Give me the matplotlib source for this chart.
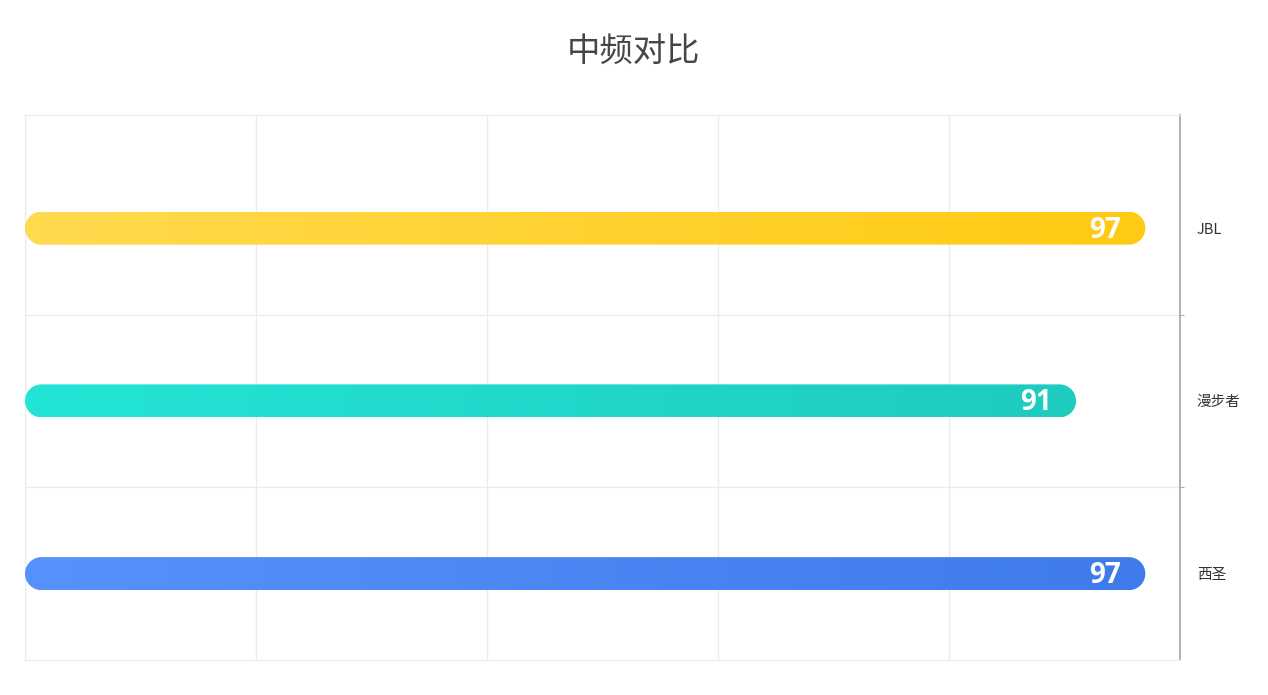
import numpy as np
import matplotlib
matplotlib.use("Agg")
import matplotlib.pyplot as plt
from matplotlib.colors import LinearSegmentedColormap
from matplotlib.patches import Polygon

plt.rcParams['font.family'] = ['Noto Sans CJK SC', 'DejaVu Sans']

# data (top to bottom as shown)
brands = ['JBL', '漫步者', '西圣']
scores = [97, 91, 97]
colors_left = ['#FFDA4F', '#23E5D6', '#5592FB']
colors_right = ['#FFCA12', '#1DCBBF', '#3F7BEB']

W, H = 1268, 695
fig = plt.figure(figsize=(W / 100, H / 100), dpi=100)
ax = fig.add_axes([25 / W, 35 / H, 1155 / W, 545 / H])

n = len(brands)
ypos = np.arange(n)[::-1]  # JBL on top
ax.set_xlim(0, 100)
ax.set_ylim(-0.5, n - 1 + 0.655)

# pixel scales for the round caps
px_per_x = 1155 / 100
px_per_y = 545 / (n - 1 + 0.655 + 0.5)
bar_px = 33
ry = (bar_px / 2) / px_per_y
rx = (bar_px / 2) / px_per_x


def pill(x1, yc):
    t = np.linspace(np.pi / 2, 3 * np.pi / 2, 40)
    left = np.column_stack([rx + rx * np.cos(t), yc + ry * np.sin(t)])
    t2 = np.linspace(-np.pi / 2, np.pi / 2, 40)
    right = np.column_stack([x1 - rx + rx * np.cos(t2), yc + ry * np.sin(t2)])
    return np.vstack([left, right])


for y, v, cl, cr in zip(ypos, scores, colors_left, colors_right):
    patch = Polygon(pill(v, y), closed=True, facecolor='none', edgecolor='none')
    ax.add_patch(patch)
    cmap = LinearSegmentedColormap.from_list('g', [cl, cr])
    grad = np.linspace(0, 1, 256).reshape(1, -1)
    im = ax.imshow(grad, cmap=cmap, aspect='auto',
                   extent=[0, v, y - ry, y + ry], zorder=3)
    im.set_clip_path(patch)
    ax.text(v - 2.1, y - 0.012, str(v), ha='right', va='center', color='white',
            fontsize=20, fontweight='bold', family=['Open Sans', 'DejaVu Sans'],
            zorder=4)

ax.set_xticks([0, 20, 40, 60, 80, 100])
ax.tick_params(axis='x', length=0, labelbottom=False)
ax.grid(axis='x', color='#ebebeb', linewidth=1)

ax.yaxis.tick_right()
ax.set_yticks(ypos)
ax.set_yticklabels(brands)
ax.set_yticks([0.5, 1.5], minor=True)
ax.tick_params(axis='y', which='major', length=0, pad=12, labelsize=10.5,
               labelcolor='#333333')
ax.tick_params(axis='y', which='minor', length=3, color='#999999', right=True, left=False)
ax.grid(axis='y', which='minor', color='#ebebeb', linewidth=1)
ax.set_axisbelow(True)

for s in ['top', 'bottom', 'left']:
    ax.spines[s].set_color('#ebebeb')
ax.spines['right'].set_color('#aaaaaa')
ax.spines['right'].set_linewidth(1.3)

fig.text(0.5, 1 - 51 / H, '中频对比', ha='center', va='center',
         fontsize=24, color='#464646')

fig.savefig('out.png', dpi=100)
